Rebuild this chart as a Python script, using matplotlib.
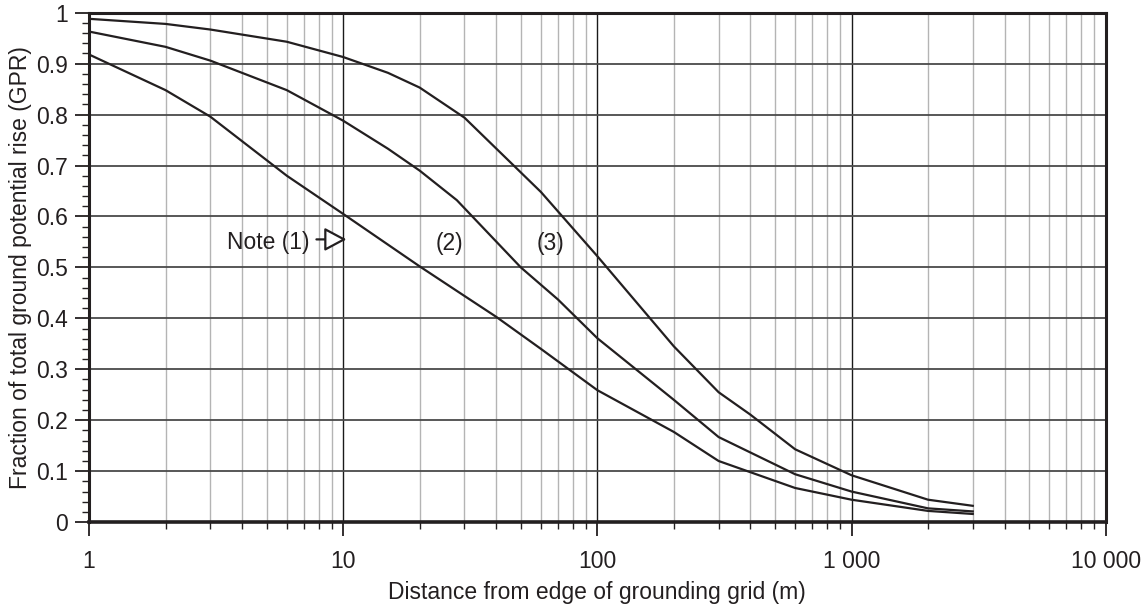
import matplotlib.pyplot as plt
from matplotlib.ticker import FixedLocator, FuncFormatter, MultipleLocator, LogLocator

# distances (m) and fraction of GPR
dist1 = [1, 2, 3, 6, 10, 20, 30, 40, 60, 100, 200, 300, 600, 1000, 2000, 3000]
gpr1 = [0.918, 0.848, 0.796, 0.680, 0.605, 0.502, 0.444, 0.403, 0.340, 0.259, 0.177, 0.120, 0.067, 0.044, 0.022, 0.016]

dist2 = [1, 2, 3, 6, 10, 15, 20, 28, 50, 70, 100, 200, 300, 600, 1000, 2000, 3000]
gpr2 = [0.963, 0.933, 0.906, 0.848, 0.788, 0.733, 0.690, 0.632, 0.500, 0.437, 0.361, 0.240, 0.167, 0.094, 0.060, 0.027, 0.021]

dist3 = [1, 2, 3, 6, 10, 15, 20, 30, 60, 100, 200, 300, 400, 600, 1000, 2000, 3000]
gpr3 = [0.988, 0.978, 0.967, 0.943, 0.913, 0.882, 0.853, 0.794, 0.648, 0.522, 0.345, 0.255, 0.211, 0.143, 0.092, 0.044, 0.032]

x_ticks = [1, 10, 100, 1000, 10000]
y_ticks = [0, 0.1, 0.2, 0.3, 0.4, 0.5, 0.6, 0.7, 0.8, 0.9, 1]

plt.rcParams['font.family'] = ['Liberation Sans', 'DejaVu Sans']
plt.rcParams['font.size'] = 16.5

ink = '#231f20'
fig = plt.figure(figsize=(11.44, 6.05), dpi=100)
ax = fig.add_axes([0.0778, 0.137, 0.8887, 0.842])

for d, g in [(dist1, gpr1), (dist2, gpr2), (dist3, gpr3)]:
    ax.plot(d, g, color=ink, lw=1.6, zorder=4)

ax.set_xscale('log')
ax.set_xlim(1, 10000)
ax.set_ylim(0, 1)

ax.xaxis.set_major_locator(FixedLocator(x_ticks))
ax.xaxis.set_minor_locator(LogLocator(base=10, subs=range(2, 10)))
ax.xaxis.set_major_formatter(FuncFormatter(lambda v, p: f"{int(round(v)):,}".replace(",", " ")))
ax.xaxis.set_minor_formatter(FuncFormatter(lambda v, p: ""))
ax.yaxis.set_major_locator(FixedLocator(y_ticks))
ax.yaxis.set_minor_locator(MultipleLocator(0.02))
ax.yaxis.set_major_formatter(FuncFormatter(lambda v, p: "0" if v == 0 else ("1" if v == 1 else f"{v:.1f}")))

ax.grid(which='minor', axis='x', color='#b4b4b4', lw=1.0, zorder=1)
ax.grid(which='major', axis='x', color='#1a1a1a', lw=1.0, zorder=2)
ax.grid(which='major', axis='y', color='#4a4a4a', lw=1.3, zorder=2)
ax.set_axisbelow(True)

ax.tick_params(which='major', direction='out', length=10, width=1.3, color=ink, labelcolor=ink, pad=5)
ax.tick_params(axis='x', which='major', pad=10)
ax.tick_params(which='minor', direction='out', length=5, width=1.0, color=ink)

for side, w in [('left', 2.2), ('bottom', 2.6), ('top', 2.2), ('right', 2.2)]:
    ax.spines[side].set_linewidth(w)
    ax.spines[side].set_color(ink)

ax.set_xlabel('Distance from edge of grounding grid (m)', color=ink, labelpad=6)
ax.set_ylabel('Fraction of total ground potential rise (GPR)', color=ink, labelpad=3)

# curve labels
ax.text(7.4, 0.549, 'Note (1)', ha='right', va='center', color=ink)
ax.annotate('', xy=(10.3, 0.555), xytext=(-21.6, 0), textcoords='offset points',
            arrowprops=dict(arrowstyle='-|>,head_length=0.9,head_width=0.48', mutation_scale=15,
                            fc='white', ec=ink, lw=1.6, shrinkA=0, shrinkB=0))
ax.text(26.2, 0.547, '(2)', ha='center', va='center', color=ink)
ax.text(65.3, 0.547, '(3)', ha='center', va='center', color=ink)

fig.savefig('out.png', dpi=100)
